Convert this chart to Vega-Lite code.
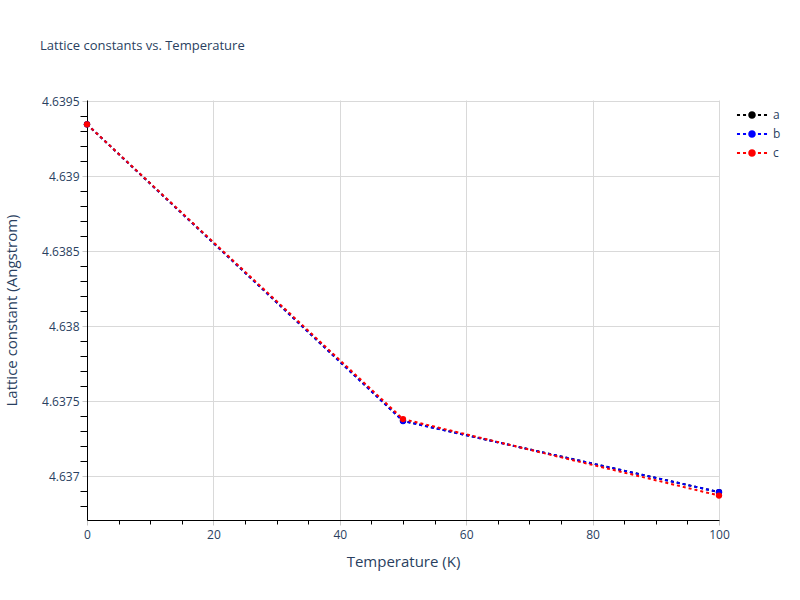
{
  "$schema": "https://vega.github.io/schema/vega-lite/v6.json",
  "width": 632,
  "height": 420,
  "autosize": "none",
  "padding": {"left": 87, "top": 100, "right": 81, "bottom": 80},
  "background": "white",
  "title": {
    "text": "Lattice constants vs. Temperature",
    "anchor": "start",
    "frame": "group",
    "dx": -47,
    "offset": 32,
    "baseline": "alphabetic",
    "font": "Open Sans",
    "fontSize": 13,
    "fontWeight": "normal",
    "color": "#2a3f5f"
  },
  "data": {
    "values": [
      {"series": "a", "T": 0, "L": 4.639345},
      {"series": "a", "T": 50, "L": 4.637368},
      {"series": "a", "T": 100, "L": 4.636893},
      {"series": "b", "T": 0, "L": 4.639345},
      {"series": "b", "T": 50, "L": 4.637367},
      {"series": "b", "T": 100, "L": 4.636893},
      {"series": "c", "T": 0, "L": 4.639345},
      {"series": "c", "T": 50, "L": 4.63738},
      {"series": "c", "T": 100, "L": 4.63687}
    ]
  },
  "encoding": {
    "x": {
      "field": "T",
      "type": "quantitative",
      "scale": {"domain": [0, 100], "nice": false, "zero": false},
      "axis": {
        "title": "Temperature (K)",
        "values": [0, 5, 10, 15, 20, 25, 30, 35, 40, 45, 50, 55, 60, 65, 70, 75, 80, 85, 90, 95, 100],
        "labelExpr": "datum.value % 20 === 0 ? datum.label : ''",
        "labelFlush": false,
        "gridColor": "#d9d9d9",
        "gridOpacity": {"condition": {"test": "datum.value % 20 === 0", "value": 1}, "value": 0},
        "domainColor": "black",
        "tickColor": {"condition": {"test": "datum.value % 20 === 0", "value": "#c8c8c8"}, "value": "black"},
        "tickSize": {"condition": {"test": "datum.value % 20 === 0", "value": 5}, "value": 4},
        "labelPadding": 4,
        "titlePadding": 14,
        "labelFont": "Open Sans",
        "labelFontSize": 12,
        "labelColor": "#2a3f5f",
        "titleFont": "Open Sans",
        "titleFontSize": 15,
        "titleFontWeight": "normal",
        "titleColor": "#2a3f5f"
      }
    },
    "y": {
      "field": "L",
      "type": "quantitative",
      "scale": {"domain": [4.636707, 4.639507], "nice": false, "zero": false},
      "axis": {
        "title": "Lattice constant (Angstrom)",
        "values": [4.6368, 4.6369, 4.637, 4.6371, 4.6372, 4.6373, 4.6374, 4.6375, 4.6376, 4.6377, 4.6378, 4.6379, 4.638, 4.6381, 4.6382, 4.6383, 4.6384, 4.6385, 4.6386, 4.6387, 4.6388, 4.6389, 4.639, 4.6391, 4.6392, 4.6393, 4.6394, 4.6395],
        "format": ".5~f",
        "labelExpr": "abs(round(datum.value * 2000) - datum.value * 2000) < 0.01 ? datum.label : ''",
        "gridColor": "#d9d9d9",
        "gridOpacity": {"condition": {"test": "abs(round(datum.value * 2000) - datum.value * 2000) < 0.01", "value": 1}, "value": 0},
        "domainColor": "black",
        "tickColor": {"condition": {"test": "abs(round(datum.value * 2000) - datum.value * 2000) < 0.01", "value": "#c8c8c8"}, "value": "black"},
        "tickSize": {"condition": {"test": "abs(round(datum.value * 2000) - datum.value * 2000) < 0.01", "value": 5}, "value": 7},
        "labelPadding": 3,
        "titlePadding": 22,
        "labelFont": "Open Sans",
        "labelFontSize": 12,
        "labelColor": "#2a3f5f",
        "titleFont": "Open Sans",
        "titleFontSize": 15,
        "titleFontWeight": "normal",
        "titleColor": "#2a3f5f"
      }
    }
  },
  "layer": [
    {
      "mark": {"type": "line", "strokeWidth": 2, "strokeDash": [3, 3]},
      "encoding": {
        "stroke": {
          "field": "series",
          "type": "nominal",
          "scale": {"range": ["black", "blue", "red"]},
          "legend": null
        }
      }
    },
    {
      "mark": {"type": "point", "filled": true, "size": 40, "opacity": 1},
      "encoding": {
        "color": {
          "field": "series",
          "type": "nominal",
          "scale": {"domain": ["a", "b", "c"], "range": ["black", "blue", "red"]},
          "legend": {
            "title": null,
            "orient": "none",
            "legendX": 656,
            "legendY": 6,
            "symbolType": "M-1.67,-0.11h0.34v0.22h-0.34z M-1.0,-0.11h0.34v0.22h-0.34z M0.66,-0.11h0.34v0.22h-0.34z M1.33,-0.11h0.34v0.22h-0.34z M-0.42,0a0.42,0.42 0 1,0 0.84,0a0.42,0.42 0 1,0 -0.84,0z",
            "symbolSize": 324,
            "symbolStrokeWidth": 0,
            "symbolOpacity": 1,
            "labelOffset": 12,
            "rowPadding": 4,
            "labelFont": "Open Sans",
            "labelFontSize": 12,
            "labelColor": "#2a3f5f"
          }
        }
      }
    }
  ],
  "config": {"view": {"stroke": null}}
}
